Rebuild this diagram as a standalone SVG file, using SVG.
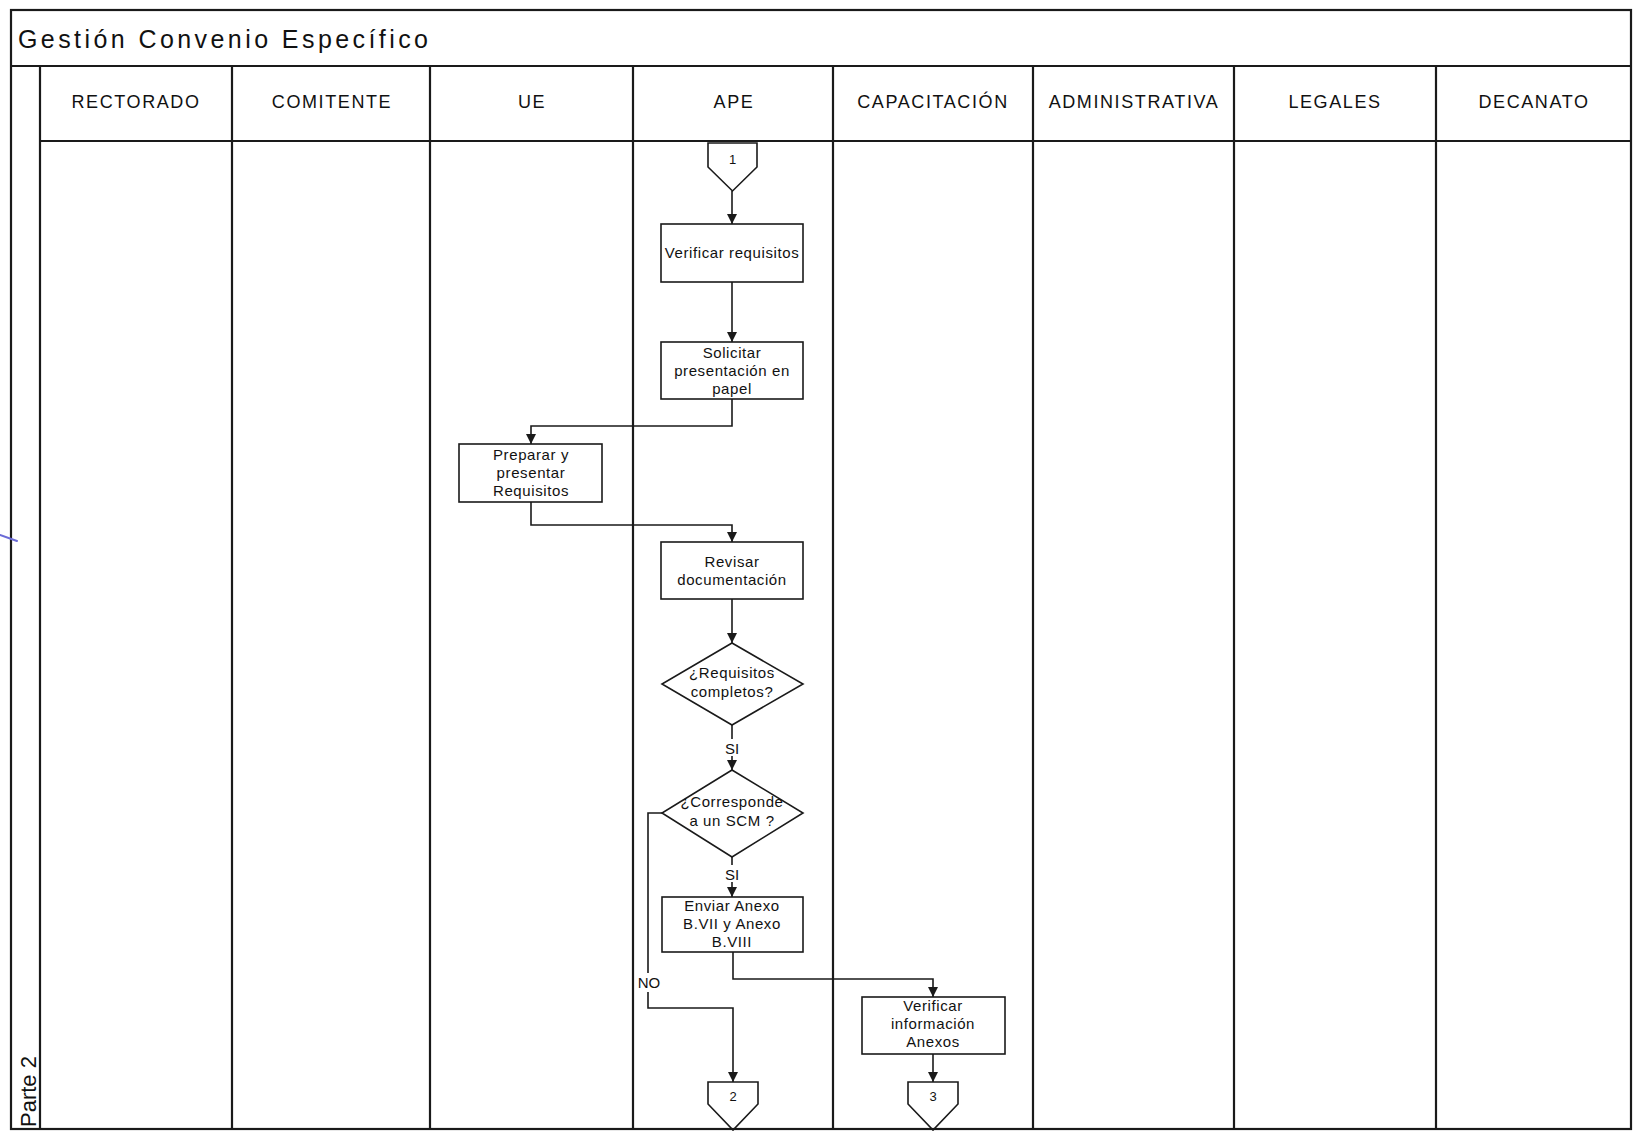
<svg xmlns="http://www.w3.org/2000/svg" width="1634" height="1133" viewBox="0 0 1634 1133">
  <style>
    .frame { fill: none; stroke: #1a1a1a; stroke-width: 2.2; }
    .lane { stroke: #1a1a1a; stroke-width: 2.2; }
    .box { fill: #fff; stroke: #1a1a1a; stroke-width: 1.6; }
    .opc { fill: none; stroke: #1a1a1a; stroke-width: 1.6; }
    .wire { fill: none; stroke: #1a1a1a; stroke-width: 1.6; }
    .t { font-family: "Liberation Sans", Arial, sans-serif; fill: #111; }
    .hd { font-size: 18px; letter-spacing: 1.6px; text-anchor: middle; }
    .bx { font-size: 15px; letter-spacing: 0.6px; text-anchor: middle; }
    .lbl { font-size: 15px; text-anchor: middle; }
    .num { font-size: 13px; text-anchor: middle; }
  </style>
  <defs>
    <marker id="arr" viewBox="0 0 10 10" refX="10" refY="5" markerWidth="10" markerHeight="10" markerUnits="userSpaceOnUse" orient="auto">
      <path d="M0,0 L10,5 L0,10 Z" fill="#1a1a1a"/>
    </marker>
  </defs>

  <rect x="0" y="0" width="1634" height="1133" fill="#fff"/>

  <!-- pool frame, title band and lanes -->
  <g id="pool">
    <rect class="frame" x="11" y="10" width="1620" height="1119"/>
    <line class="lane" x1="11" y1="66" x2="1631" y2="66"/>
    <line class="lane" x1="40" y1="141" x2="1631" y2="141"/>
    <line class="lane" x1="40" y1="66" x2="40" y2="1129"/>
    <line class="lane" x1="232" y1="66" x2="232" y2="1129"/>
    <line class="lane" x1="430" y1="66" x2="430" y2="1129"/>
    <line class="lane" x1="633" y1="66" x2="633" y2="1129"/>
    <line class="lane" x1="833" y1="66" x2="833" y2="1129"/>
    <line class="lane" x1="1033" y1="66" x2="1033" y2="1129"/>
    <line class="lane" x1="1234" y1="66" x2="1234" y2="1129"/>
    <line class="lane" x1="1436" y1="66" x2="1436" y2="1129"/>
    <text class="t" x="18" y="48" font-size="25" textLength="410" lengthAdjust="spacing">Gestión Convenio Específico</text>
    <text class="t" font-size="22" transform="translate(36,1127) rotate(-90)">Parte 2</text>
    <text class="t hd" x="136" y="108">RECTORADO</text>
    <text class="t hd" x="332" y="108">COMITENTE</text>
    <text class="t hd" x="532" y="108">UE</text>
    <text class="t hd" x="734" y="108">APE</text>
    <text class="t hd" x="933" y="108">CAPACITACIÓN</text>
    <text class="t hd" x="1134" y="108">ADMINISTRATIVA</text>
    <text class="t hd" x="1335" y="108">LEGALES</text>
    <text class="t hd" x="1534" y="108">DECANATO</text>
    <!-- pen stroke on the left margin -->
    <line x1="0" y1="535" x2="17" y2="541" stroke="#6b6bd6" stroke-width="2" stroke-linecap="round"/>
  </g>

  <!-- connectors -->
  <g id="connectors">
    <path class="wire" d="M732,191 V224" marker-end="url(#arr)"/>
    <path class="wire" d="M732,282 V342" marker-end="url(#arr)"/>
    <path class="wire" d="M732,399 V426 H531 V444" marker-end="url(#arr)"/>
    <path class="wire" d="M531,502 V525 H732 V542" marker-end="url(#arr)"/>
    <path class="wire" d="M732,599 V643" marker-end="url(#arr)"/>
    <path class="wire" d="M732,725 V770" marker-end="url(#arr)"/>
    <path class="wire" d="M732,857 V897" marker-end="url(#arr)"/>
    <path class="wire" d="M662,813 H648 V1008 H733 V1082" marker-end="url(#arr)"/>
    <path class="wire" d="M733,952 V979 H933 V997" marker-end="url(#arr)"/>
    <path class="wire" d="M933,1054 V1082" marker-end="url(#arr)"/>
    <rect x="723" y="739" width="20" height="17" fill="#fff"/>
    <text class="t lbl" x="732" y="754">SI</text>
    <rect x="723" y="865" width="20" height="17" fill="#fff"/>
    <text class="t lbl" x="732" y="880">SI</text>
    <rect x="636" y="973" width="25" height="19" fill="#fff"/>
    <text class="t lbl" x="649" y="988">NO</text>
  </g>

  <!-- off-page connector 1 -->
  <g id="opc1">
    <path class="opc" d="M708,143 H757 V167 L732.5,191 L708,167 Z"/>
    <text class="t num" x="732.5" y="164">1</text>
  </g>

  <g id="verificar-requisitos">
    <rect class="box" x="661" y="224" width="142" height="58"/>
    <text class="t bx" x="732" y="258">Verificar requisitos</text>
  </g>

  <g id="solicitar-presentacion">
    <rect class="box" x="661" y="342" width="142" height="57"/>
    <text class="t bx" x="732" y="358">Solicitar</text>
    <text class="t bx" x="732" y="376">presentación en</text>
    <text class="t bx" x="732" y="394">papel</text>
  </g>

  <g id="preparar-requisitos">
    <rect class="box" x="459" y="444" width="143" height="58"/>
    <text class="t bx" x="531" y="460">Preparar y</text>
    <text class="t bx" x="531" y="478">presentar</text>
    <text class="t bx" x="531" y="496">Requisitos</text>
  </g>

  <g id="revisar-documentacion">
    <rect class="box" x="661" y="542" width="142" height="57"/>
    <text class="t bx" x="732" y="567">Revisar</text>
    <text class="t bx" x="732" y="585">documentación</text>
  </g>

  <g id="requisitos-completos">
    <path class="box" d="M732,643 L803,684 L732,725 L662,684 Z"/>
    <text class="t bx" x="732" y="678">¿Requisitos</text>
    <text class="t bx" x="732" y="697">completos?</text>
  </g>

  <g id="corresponde-scm">
    <path class="box" d="M732,770 L803,813 L732,857 L662,813 Z"/>
    <text class="t bx" x="732" y="807" letter-spacing="2.4">¿Corresponde</text>
    <text class="t bx" x="732" y="826">a un SCM ?</text>
  </g>

  <g id="enviar-anexos">
    <rect class="box" x="662" y="897" width="141" height="55"/>
    <text class="t bx" x="732" y="911">Enviar Anexo</text>
    <text class="t bx" x="732" y="929">B.VII y Anexo</text>
    <text class="t bx" x="732" y="947">B.VIII</text>
  </g>

  <g id="verificar-anexos">
    <rect class="box" x="862" y="997" width="143" height="57"/>
    <text class="t bx" x="933" y="1011">Verificar</text>
    <text class="t bx" x="933" y="1029">información</text>
    <text class="t bx" x="933" y="1047">Anexos</text>
  </g>

  <!-- off-page connectors 2 and 3 -->
  <g id="opc2">
    <path class="opc" d="M708,1082 H758 V1104 L733,1130 L708,1104 Z"/>
    <text class="t num" x="733" y="1101">2</text>
  </g>
  <g id="opc3">
    <path class="opc" d="M908,1082 H958 V1104 L933,1130 L908,1104 Z"/>
    <text class="t num" x="933" y="1101">3</text>
  </g>
</svg>
